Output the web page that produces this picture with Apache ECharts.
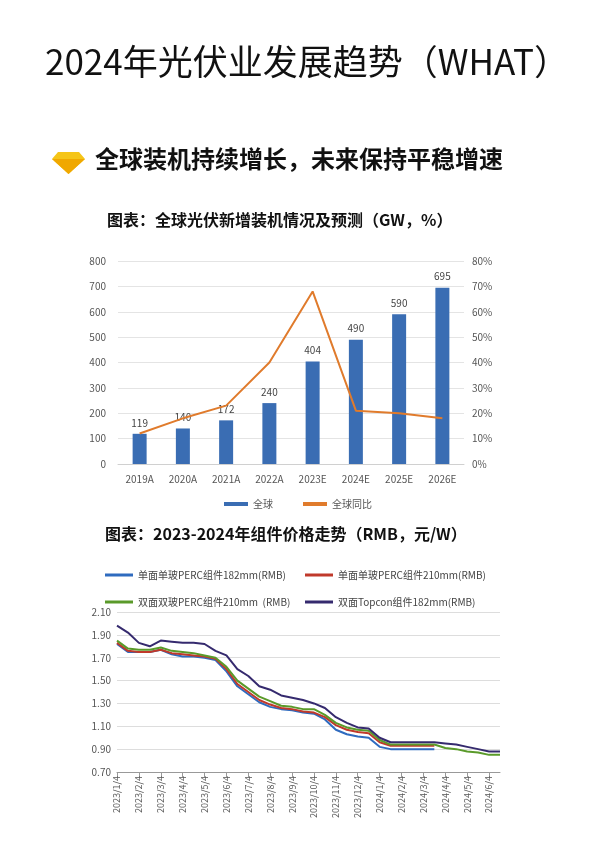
<!DOCTYPE html>
<html><head><meta charset="utf-8">
<script src="https://cdn.jsdelivr.net/npm/echarts@6/dist/echarts.min.js"></script>
<style>html,body{margin:0;padding:0;background:#fff}#c{width:596px;height:842px}</style>
</head><body><div id="c"></div>
<script>
const years = ['2019A','2020A','2021A','2022A','2023E','2024E','2025E','2026E'];
const install = [119,140,172,240,404,490,590,695];
const yoy = [12,18,23,40,68,21,20,18];

const dates = [];
for (let y of [2023,2024]) for (let m=1;m<=12;m++){ if(y===2024&&m>6) break; dates.push(y+'/'+m+'/4'); dates.push(y+'/'+m+'/18'); }
const blue = [1.82,1.75,1.75,1.75,1.77,1.73,1.71,1.71,1.70,1.68,1.58,1.45,1.38,1.31,1.27,1.25,1.24,1.22,1.21,1.16,1.07,1.03,1.01,1.00,0.92,0.90,0.90,0.90,0.90,0.90];
const red = [1.83,1.76,1.75,1.75,1.77,1.74,1.73,1.72,1.71,1.69,1.60,1.47,1.40,1.33,1.29,1.26,1.25,1.23,1.22,1.18,1.11,1.07,1.05,1.04,0.96,0.93,0.93,0.93,0.93,0.93];
const green = [1.85,1.78,1.77,1.77,1.79,1.76,1.75,1.74,1.72,1.70,1.62,1.50,1.43,1.36,1.32,1.28,1.27,1.25,1.25,1.20,1.13,1.09,1.07,1.06,0.98,0.94,0.94,0.94,0.94,0.94,0.91,0.90,0.88,0.87,0.85,0.85];
const topcon = [1.98,1.92,1.83,1.80,1.85,1.84,1.83,1.83,1.82,1.76,1.72,1.60,1.54,1.45,1.42,1.37,1.35,1.33,1.30,1.26,1.18,1.13,1.09,1.08,1.00,0.96,0.96,0.96,0.96,0.96,0.95,0.94,0.92,0.90,0.88,0.88];
const names = ['单面单玻PERC组件182mm(RMB)','单面单玻PERC组件210mm(RMB)','双面双玻PERC组件210mm  (RMB)','双面Topcon组件182mm(RMB)'];
const colors = ['#2f6bbf','#c0392b','#5a9a2a','#352a6e'];

const ch = echarts.init(document.getElementById('c'));
const F = 'Noto Sans CJK SC';
const lg = (i,left,top)=>({left,top,data:[{name:names[i],icon:'rect'}],itemWidth:28,itemHeight:3,textStyle:{fontSize:10,color:'#444',fontFamily:F}});
ch.setOption({
  textStyle:{fontFamily:F},
  graphic:[
    {type:'text',left:45,top:44,style:{text:'2024年光伏业发展趋势（WHAT）',font:'35px "Noto Sans CJK SC"',fill:'#111'}},
    {type:'polygon',shape:{points:[[58,152],[79,152],[85,159],[68.5,174],[52,159]]},style:{fill:'#f5c518'}},
    {type:'polygon',shape:{points:[[52,159],[85,159],[68.5,174]]},style:{fill:'#f0a800'}},
    {type:'text',left:95,top:147,style:{text:'全球装机持续增长，未来保持平稳增速',font:'bold 24px "Noto Sans CJK SC"',fill:'#111'}},
    {type:'text',left:107,top:212,style:{text:'图表：全球光伏新增装机情况及预测（GW，%）',font:'bold 16px "Noto Sans CJK SC"',fill:'#111'}},
    {type:'text',left:105,top:526,style:{text:'图表：2023-2024年组件价格走势（RMB，元/W）',font:'bold 16px "Noto Sans CJK SC"',fill:'#111'}}
  ],
  legend:[
    {left:'center',top:494,itemGap:30,data:[{name:'全球',icon:'rect'},{name:'全球同比',icon:'rect'}],itemWidth:24,itemHeight:4,textStyle:{fontSize:10,color:'#555'}},
    lg(0,100,565),lg(1,300,565),lg(2,100,592),lg(3,300,592)
  ],
  grid:[
    {left:118,right:132,top:261,height:203},
    {left:117,right:96,top:612,height:160}
  ],
  xAxis:[
    {type:'category',gridIndex:0,data:years,axisLine:{lineStyle:{color:'#d0d0d0'}},axisTick:{show:false},axisLabel:{color:'#555',fontSize:10,margin:10}},
    {type:'category',gridIndex:1,data:dates,boundaryGap:false,axisLine:{lineStyle:{color:'#999'}},axisTick:{interval:1,lineStyle:{color:'#999'}},
     axisLabel:{interval:1,rotate:90,color:'#555',fontSize:9,margin:4}}
  ],
  yAxis:[
    {type:'value',gridIndex:0,min:0,max:800,interval:100,axisLine:{show:false},axisTick:{show:false},splitLine:{lineStyle:{color:'#e4e4e4'}},axisLabel:{color:'#555',fontSize:10,margin:12}},
    {type:'value',gridIndex:0,min:0,max:80,interval:10,axisLine:{show:false},axisTick:{show:false},splitLine:{show:false},axisLabel:{color:'#555',fontSize:10,formatter:'{value}%',margin:8}},
    {type:'value',gridIndex:1,min:0.7,max:2.1,interval:0.2,axisLine:{show:false},axisTick:{show:false},splitLine:{lineStyle:{color:'#ddd'}},axisLabel:{color:'#555',fontSize:10,formatter:v=>v.toFixed(2),margin:6}}
  ],
  series:[
    {name:'全球',type:'bar',xAxisIndex:0,yAxisIndex:0,data:install,barWidth:14,itemStyle:{color:'#3a6db3'},label:{show:true,position:'top',color:'#444',fontSize:10,distance:6}},
    {name:'全球同比',type:'line',xAxisIndex:0,yAxisIndex:1,data:yoy,symbol:'none',lineStyle:{color:'#e07b2c',width:2},itemStyle:{color:'#e07b2c'}},
    ...[blue,red,green,topcon].map((d,i)=>({name:names[i],type:'line',xAxisIndex:1,yAxisIndex:2,data:d,symbol:'none',lineStyle:{color:colors[i],width:2},itemStyle:{color:colors[i]}}))
  ]
});
</script></body></html>
